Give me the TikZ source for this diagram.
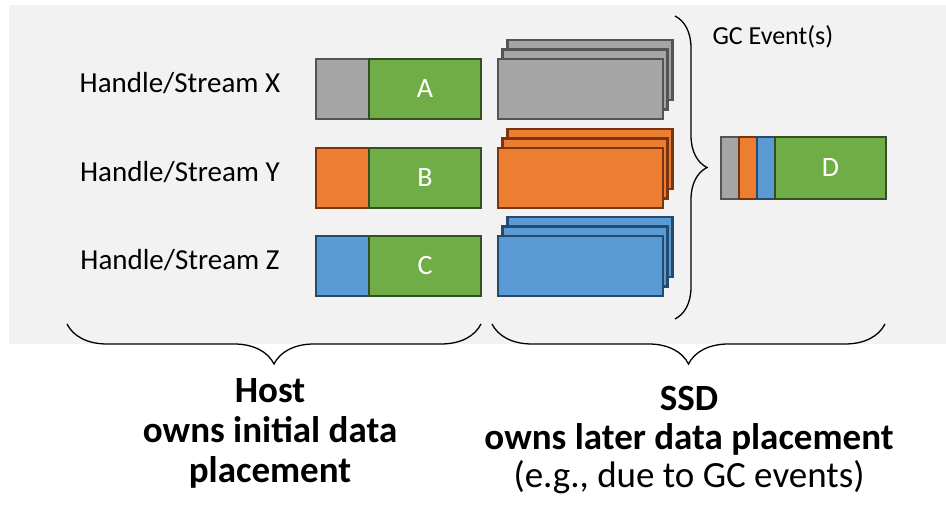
\documentclass[tikz,border=0pt]{standalone}
\usepackage{fontspec}
\setmainfont{Carlito}
\usepackage{xcolor}
\usetikzlibrary{positioning,decorations.pathreplacing}
\definecolor{panel}{HTML}{F2F2F2}
\definecolor{gcgray}{HTML}{A5A5A5}
\definecolor{gcgrayline}{HTML}{545454}
\definecolor{gcorange}{HTML}{ED7D31}
\definecolor{gcorangeline}{HTML}{7A3510}
\definecolor{gcblue}{HTML}{5B9BD5}
\definecolor{gcblueline}{HTML}{264A6B}
\definecolor{gcgreen}{HTML}{70AD47}
\definecolor{gcgreenline}{HTML}{344F22}

\begin{document}
\begin{tikzpicture}[x=1pt,y=-1pt,
    blk/.style={draw, line width=2.4pt, inner sep=0pt, outer sep=0pt, minimum height=60pt},
    datblk/.style={blk, fill=gcgreen, draw=gcgreenline, text=white, text height=18pt, text depth=0pt,
      font=\fontsize{28}{32}\selectfont},
    brc/.style={decorate, decoration={brace, amplitude=#1}, line width=1.3pt}]
    \useasboundingbox (0,0) rectangle (946,510);
    \fill[panel] (9,5) rectangle (946,344);
    % Streams: label, host block, stacked SSD blocks
    \foreach \n/\c/\l/\y in {X/gcgray/A/89, Y/gcorange/B/178, Z/gcblue/C/266} {
      \node[anchor=base, font=\fontsize{29}{34}\selectfont] (lab\n) at (180,\y+4) {Handle/Stream \n};
      \node[blk, fill=\c, draw=\c line, minimum width=53pt] (tag\n) at (342.5,\y) {};
      \node[datblk, minimum width=112pt] (dat\n) at (425,\y) {\l};
      % three copies, back to front
      \node[blk, fill=\c, draw=\c line, minimum width=165pt] (ssd\n c) at (590,\y-19) {};
      \node[blk, fill=\c, draw=\c line, minimum width=165pt] (ssd\n b) at (585,\y-9.5) {};
      \node[blk, fill=\c, draw=\c line, minimum width=165pt] (ssd\n a) at (580.5,\y) {};
    }
    % Block after garbage collection
    \node[blk, minimum height=62pt, minimum width=18pt, fill=gcgray, draw=gcgrayline] (dx) at (730,168) {};
    \node[blk, minimum height=62pt, minimum width=18pt, fill=gcorange, draw=gcorangeline] (dy) at (748,168) {};
    \node[blk, minimum height=62pt, minimum width=18pt, fill=gcblue, draw=gcblueline] (dz) at (766,168) {};
    \node[datblk, minimum height=62pt, minimum width=111pt] (dd) at (830.5,168) {D};
    \node[anchor=base west, font=\fontsize{26}{30}\selectfont] (gc) at (709,45) {GC Event(s)};
    % Braces
    \coordinate (gctop) at (675,16);
    \coordinate (gcbot) at (675,319);
    \draw[brc=32pt] (gctop) -- (gcbot);
    \coordinate (hostr) at (481,324);
    \coordinate (hostl) at (67,324);
    \draw[brc=40pt] (hostr) -- (hostl);
    \coordinate (ssdr) at (885,324);
    \coordinate (ssdl) at (492,324);
    \draw[brc=40pt] (ssdr) -- (ssdl);
    % Owners
    \node[anchor=base, align=center, font=\fontsize{37}{40}\selectfont\bfseries] (host) at (270,483)
      {Host\\owns initial data\\placement};
    \node[anchor=base, align=center, font=\fontsize{37}{38.5}\selectfont] (ssd) at (689,488)
      {\textbf{SSD}\\\textbf{owns later data placement}\\(e.g., due to GC events)};
  \end{tikzpicture}
\end{document}
